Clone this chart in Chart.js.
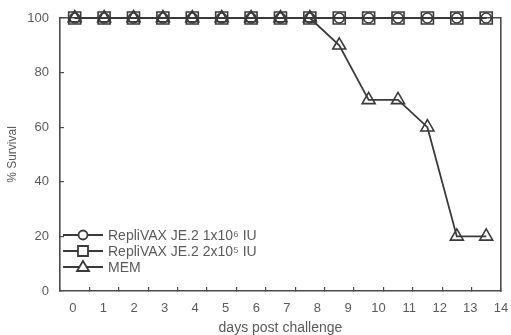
<!DOCTYPE html>
<html>
<head>
<meta charset="utf-8">
<script src="https://cdn.jsdelivr.net/npm/chart.js@4/dist/chart.umd.min.js"></script>
<style>
  html, body { margin:0; padding:0; background:#fff; }
  #wrap { width:511px; height:335px; position:relative; }
</style>
</head>
<body>
<div id="wrap"><canvas id="survChart"></canvas></div>
<script>
// ---- data ----
const days      = ['0','1','2','3','4','5','6','7','8','9','10','11','12','13','14'];
const dayTicks  = [0,1,2,3,4,5,6,7,8,9,10,11,12,13,14];
const highDose  = [100,100,100,100,100,100,100,100,100,100,100,100,100,100,100];
const lowDose   = [100,100,100,100,100,100,100,100,100,100,100,100,100,100,100];
const mem       = [100,100,100,100,100,100,100,100,100,90,70,70,60,20,20];
const seriesNames = ['RepliVAX JE.2 1x10\u2076 IU', 'RepliVAX JE.2 2x10\u2075 IU', 'MEM'];
const yTicks    = [0,20,40,60,80,100];

const INK  = '#3a3a3a';
const AXIS = '#4a4a4a';
const TXT  = '#5a5a5a';
const FONT = "'Liberation Sans', Arial, sans-serif";

// legend drawn inside the plot, bottom-left
const insideLegend = {
  id:'insideLegend',
  afterDraw(chart) {
    const { ctx, chartArea } = chart;
    ctx.save();
    chart.data.datasets.forEach((ds, i) => {
      const y  = chartArea.bottom - 56 + i*16;
      const x0 = chartArea.left + 3, x1 = chartArea.left + 43, cx = (x0+x1)/2;
      ctx.strokeStyle = INK; ctx.lineWidth = 1.8;
      ctx.beginPath(); ctx.moveTo(x0,y); ctx.lineTo(x1,y); ctx.stroke();
      ctx.fillStyle = '#fff';
      ctx.beginPath();
      if (ds.pointStyle === 'circle') ctx.arc(cx, y, 4.5, 0, Math.PI*2);
      else if (ds.pointStyle === 'rect') ctx.rect(cx-5, y-5, 10, 10);
      else { ctx.moveTo(cx, y-6); ctx.lineTo(cx+6, y+4); ctx.lineTo(cx-6, y+4); ctx.closePath(); }
      ctx.fill(); ctx.stroke();
      ctx.fillStyle = TXT; ctx.font = '14px ' + FONT; ctx.textBaseline = 'middle';
      ctx.fillText(ds.label, x1 + 5, y + 1);
    });
    ctx.restore();
  }
};

const mk = (label, data, style, r) => ({
  label, data, pointStyle:style, pointRadius:r, pointHoverRadius:r,
  borderColor:INK, borderWidth:1.8, pointBorderColor:INK, pointBorderWidth:1.6,
  pointBackgroundColor:'rgba(255,255,255,0)', tension:0, clip:false, xAxisID:'x', yAxisID:'y',
});

new Chart(document.getElementById('survChart'), {
  type:'line',
  data:{ labels:days, datasets:[
    mk(seriesNames[0], highDose, 'circle', 5),
    mk(seriesNames[1], lowDose, 'rect', 8.5),
    mk(seriesNames[2], mem, 'triangle', 7.5),
  ]},
  plugins:[insideLegend],
  options:{
    responsive:true, maintainAspectRatio:false, animation:false,
    layout:{ padding:{ top:18, right:9, left:0, bottom:0 } },
    plugins:{ legend:{display:false}, tooltip:{enabled:false} },
    scales:{
      x:{ type:'category', offset:true, weight:0,
          grid:{ offset:true, drawOnChartArea:false, tickLength:-4, color:AXIS, lineWidth:1.2 },
          border:{ color:AXIS, width:1.6 },
          ticks:{ display:false } },
      x2:{ type:'linear', position:'bottom', axis:'x', weight:1, min:-0.42, max:14,
           afterBuildTicks:s => { s.ticks = dayTicks.map(v => ({value:v})); },
           afterFit:s => { s.height = 44; s.paddingLeft = 0; s.paddingRight = 0; },
           grid:{ display:false }, border:{ display:false },
           ticks:{ color:TXT, font:{ family:FONT, size:13 }, padding:6, maxRotation:0, autoSkip:false },
           title:{ display:true, text:'days post challenge', color:TXT, font:{ family:FONT, size:14 }, padding:{top:0,bottom:-6} } },
      xTop:{ type:'linear', position:'top', axis:'x', display:true,
             afterFit:s => { s.height = 0; },
             grid:{ drawOnChartArea:false, drawTicks:false }, ticks:{display:false},
             border:{ color:AXIS, width:1.6 } },
      y:{ min:0, max:100,
          afterBuildTicks:s => { s.ticks = yTicks.map(v => ({value:v})); },
          afterFit:s => { s.width = 60; s.paddingTop = 0; s.paddingBottom = 0; },
          grid:{ drawOnChartArea:false, tickLength:-4, color:AXIS, lineWidth:1.2 },
          border:{ color:AXIS, width:1.6 },
          ticks:{ color:TXT, font:{ family:FONT, size:13 }, padding:15 },
          title:{ display:true, text:'% Survival', color:TXT, font:{ family:FONT, size:12 }, padding:{top:5,bottom:0} } },
      yRight:{ type:'linear', position:'right', axis:'y', display:true,
               afterFit:s => { s.width = 0; },
               grid:{ drawOnChartArea:false, drawTicks:false }, ticks:{display:false},
               border:{ color:AXIS, width:1.6 } },
    },
  },
});
</script>
</body>
</html>
